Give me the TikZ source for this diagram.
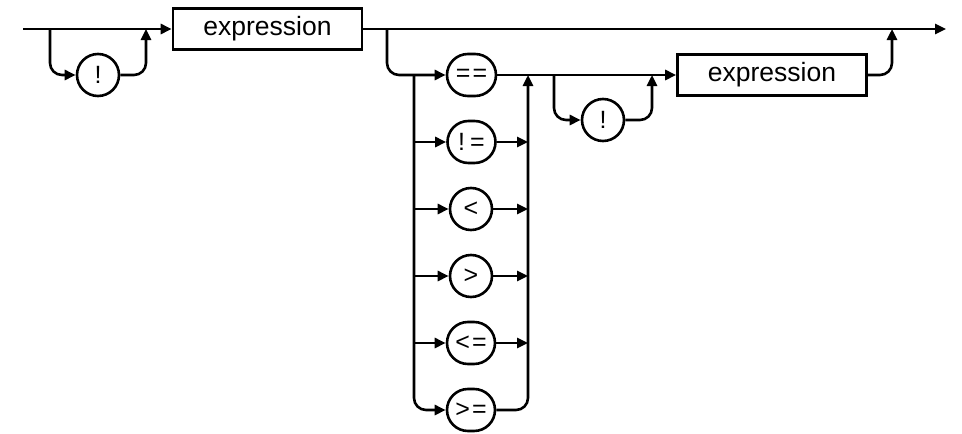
\documentclass[tikz,border=0pt]{standalone}
\usepackage{fontspec}
\setmainfont{Liberation Sans}
\usetikzlibrary{arrows.meta,shapes.misc}
\begin{document}
\begin{tikzpicture}[x=1pt,y=-1pt,
  rr/.style={line width=2.6pt, line join=round},
  arr/.style={rr, -{Triangle[length=11pt,width=10pt]}},
  term/.style={draw, line width=2.6pt, rounded rectangle, minimum height=42pt, minimum width=43pt, inner xsep=6pt, font=\fontsize{25}{27}\selectfont},
  nonterm/.style={draw, line width=2.6pt, rectangle, minimum height=41pt, minimum width=189pt, font=\fontsize{26.5}{28}\selectfont}]
\useasboundingbox (0,0) rectangle (962,434);
% nodes
\node[nonterm] (expr1) at (267.5,29) {expression};
\node[term] (bang1) at (98,75) {!};
\node[term, minimum width=61pt] (eq) at (471.5,75) {=\kern2pt=};
\node[term, minimum width=60pt] (ne) at (471.5,142) {!\kern5pt=};
\node[term] (lt) at (471,209) {<};
\node[term] (gt) at (471,276) {>};
\node[term, minimum width=60pt] (le) at (471,343) {<\kern2pt=};
\node[term, minimum width=60pt] (ge) at (471,410) {>\kern2pt=};
\node[term] (bang2) at (603,120) {!};
\node[nonterm] (expr2) at (772,75) {expression};
% coordinates
\coordinate (start) at (23,29);
\coordinate (end) at (946,29);
\coordinate (b1) at (50,29);
\coordinate (j1) at (146,29);
\coordinate (b2) at (387,29);
\coordinate (lv) at (414,75);
\coordinate (rv) at (528,75);
\coordinate (b3) at (554,75);
\coordinate (j3) at (652,75);
\coordinate (j4) at (892,29);
% main line
\draw[arr] (start) -- (expr1.west);
\draw[arr] (expr1.east) -- (end);
% first bypass
\draw[arr, rounded corners=12pt] (b1) -- (b1 |- bang1) -- (bang1.west);
\draw[arr, rounded corners=12pt] (bang1.east) -- (j1 |- bang1) -- (j1);
% branch into operators
\draw[arr, rounded corners=12pt] (b2) -- (b2 |- eq) -- (eq.west);
\draw[arr, rounded corners=12pt] (lv) -- (lv |- ge) -- (ge.west);
\foreach \n in {ne,lt,gt,le} {
  \draw[arr] (lv |- \n) -- (\n.west);
  \draw[arr] (\n.east) -- (rv |- \n);
}
\draw[arr, rounded corners=12pt] (ge.east) -- (rv |- ge) -- (rv);
% after operators
\draw[arr] (eq.east) -- (expr2.west);
% second bypass
\draw[arr, rounded corners=12pt] (b3) -- (b3 |- bang2) -- (bang2.west);
\draw[arr, rounded corners=12pt] (bang2.east) -- (j3 |- bang2) -- (j3);
% return to main line
\draw[arr, rounded corners=12pt] (expr2.east) -- (j4 |- expr2) -- (j4);
\end{tikzpicture}
\end{document}
